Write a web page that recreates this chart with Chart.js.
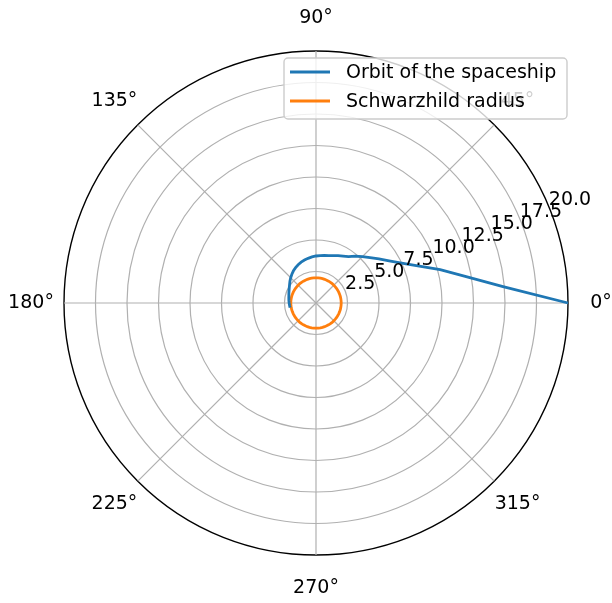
<!DOCTYPE html>
<html>
<head>
<meta charset="utf-8">
<script src="https://cdn.jsdelivr.net/npm/chart.js@4"></script>
<style>
  body { margin: 0; background: #fff; }
</style>
</head>
<body>
<canvas id="chart" width="612" height="603"></canvas>
<script>
// polar categories: one every 5 degrees
const thetaStep = 5;
const thetaLabels = [0, 45, 90, 135, 180, 225, 270, 315];
const rTicks = [2.5, 5.0, 7.5, 10.0, 12.5, 15.0, 17.5, 20.0];

// orbit radius at theta = 0, 5, 10, ... 190 deg
const orbitR = [
  20.0, 14.9, 12.1, 10.2, 8.6, 7.5, 6.7, 6.1, 5.6, 5.2,
  4.85, 4.5, 4.3, 4.15, 4.0, 3.9, 3.83, 3.78, 3.73, 3.67,
  3.6, 3.53, 3.45, 3.35, 3.24, 3.12, 2.98, 2.84, 2.70, 2.56,
  2.45, 2.36, 2.29, 2.23, 2.19, 2.16, 2.13, 2.11, 2.09
];
const schwarzschildR = 2.0;

const seriesNames = ['Orbit of the spaceship', 'Schwarzhild radius'];
const seriesColors = ['#1f77b4', '#ff7f0e'];

const FONT = '19px "DejaVu Sans"';

// radar goes clockwise, so walk the angles backwards to get matplotlib's ccw theta
const angles = [];
for (let a = 0; a < 360; a += thetaStep) angles.push((360 - a) % 360);
const orbitData = angles.map(a => {
  const k = a / thetaStep;
  return k < orbitR.length ? orbitR[k] : null;
});
const ringData = angles.map(() => schwarzschildR);

const polarLabels = {
  id: 'polarLabels',
  afterDraw(chart) {
    const { ctx } = chart;
    const s = chart.scales.r;
    const cx = s.xCenter, cy = s.yCenter, R = s.drawingArea;
    ctx.save();
    ctx.font = FONT;
    ctx.fillStyle = '#000';

    // r tick labels along 22.5 deg
    const ra = 22.5 * Math.PI / 180;
    ctx.textAlign = 'left';
    ctx.textBaseline = 'bottom';
    rTicks.forEach(v => {
      const d = s.getDistanceFromCenterForValue(v);
      ctx.fillText(v.toFixed(1), cx + d * Math.cos(ra), cy - d * Math.sin(ra) + 3);
    });

    // theta labels
    ctx.textAlign = 'center';
    ctx.textBaseline = 'middle';
    thetaLabels.forEach(t => {
      const a = t * Math.PI / 180;
      const d = R + 33;
      ctx.fillText(t + '°', cx + d * Math.cos(a), cy - d * Math.sin(a));
    });

    // legend box, upper right
    const x0 = 284, y0 = 58, w = 283, h = 61;
    ctx.globalAlpha = 0.8;
    ctx.fillStyle = '#fff';
    ctx.beginPath();
    ctx.roundRect(x0, y0, w, h, 4);
    ctx.fill();
    ctx.globalAlpha = 1;
    ctx.strokeStyle = '#cccccc';
    ctx.lineWidth = 1.4;
    ctx.stroke();
    ctx.textAlign = 'left';
    seriesNames.forEach((name, i) => {
      const y = y0 + 14 + i * 29;
      ctx.strokeStyle = seriesColors[i];
      ctx.lineWidth = 2.8;
      ctx.beginPath();
      ctx.moveTo(x0 + 6, y);
      ctx.lineTo(x0 + 46, y);
      ctx.stroke();
      ctx.fillStyle = '#000';
      ctx.fillText(name, x0 + 62, y + 1);
    });
    ctx.restore();
  }
};

new Chart(document.getElementById('chart'), {
  type: 'radar',
  data: {
    labels: angles,
    datasets: [
      {
        label: seriesNames[0],
        data: orbitData,
        borderColor: seriesColors[0],
        borderWidth: 2.8,
        fill: false,
        pointRadius: 0,
        tension: 0
      },
      {
        label: seriesNames[1],
        data: ringData,
        borderColor: seriesColors[1],
        borderWidth: 2.8,
        fill: false,
        pointRadius: 0,
        tension: 0
      }
    ]
  },
  options: {
    responsive: false,
    animation: false,
    layout: { padding: { left: 64, right: 44, top: 51, bottom: 48 } },
    plugins: { legend: { display: false }, tooltip: { enabled: false } },
    scales: {
      r: {
        min: 0,
        max: 20,
        startAngle: 90,
        ticks: { display: false, stepSize: 2.5 },
        pointLabels: { display: false },
        grid: {
          circular: true,
          color: c => (c.tick && c.tick.value === 20 ? '#000' : '#b0b0b0'),
          lineWidth: c => (c.tick && c.tick.value === 20 ? 1.4 : 1.2)
        },
        angleLines: {
          color: '#b0b0b0',
          lineWidth: c => (angles[c.index] % 45 === 0 ? 1.2 : 0)
        }
      }
    }
  },
  plugins: [polarLabels]
});
</script>
</body>
</html>
